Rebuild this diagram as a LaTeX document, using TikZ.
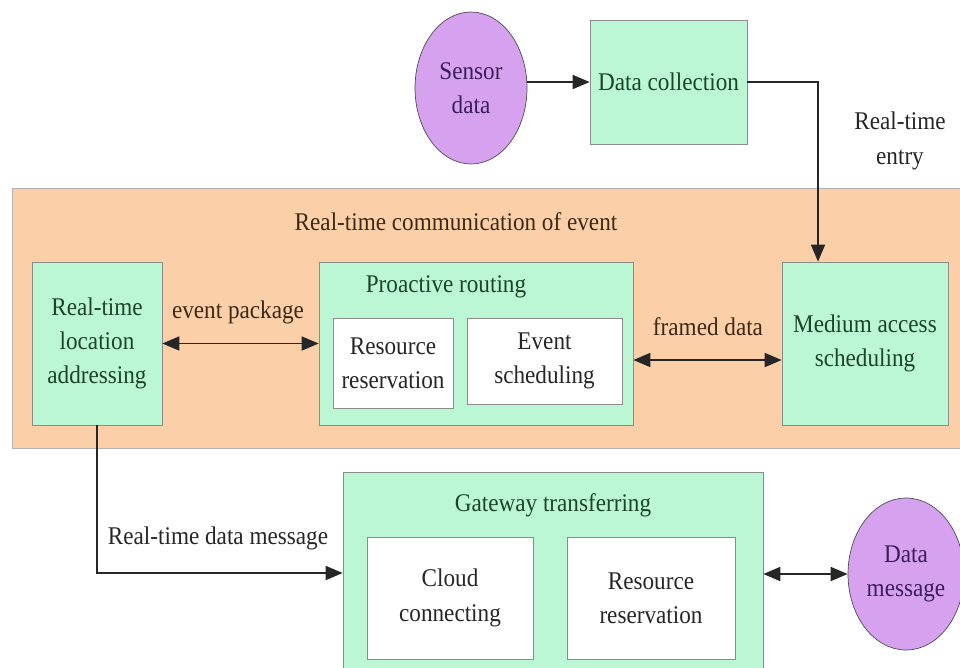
\documentclass[tikz,border=0pt]{standalone}
\usepackage{fontspec}
\setmainfont{Liberation Serif}[FakeStretch=0.91]
\usetikzlibrary{arrows.meta,shapes.geometric}
\definecolor{boxgreen}{RGB}{188,247,213}
\definecolor{bandorange}{RGB}{251,208,168}
\definecolor{ovalpurple}{RGB}{214,162,240}
\definecolor{greentext}{RGB}{28,68,40}
\definecolor{browntext}{RGB}{62,40,22}
\definecolor{purpletext}{RGB}{58,30,88}
\begin{document}
\begin{tikzpicture}[x=0.02cm,y=-0.02cm,
        font=\fontsize{14.5}{19.5}\selectfont,
        >={Triangle[length=3.4mm,width=2.8mm]},
        box/.style={draw=black!45,fill=boxgreen,text=greentext,align=center,
            inner sep=0pt},
        inbox/.style={draw=black!45,fill=white,text=black!85,align=center,
            inner sep=0pt},
        oval/.style={ellipse,draw=black!70,fill=ovalpurple,text=purpletext,
            align=center,inner sep=0pt},
        lbl/.style={text=browntext,align=center},
        link/.style={line width=1pt,black!85}]
\useasboundingbox (0,0) rectangle (960,667);

\node[oval,minimum width=2.24cm,minimum height=3.04cm] (sensor) at (471,88) {Sensor\\data};
\node[box,minimum width=3.14cm,minimum height=2.48cm] (collect) at (668.5,82) {Data collection};

\draw[draw=black!30,fill=bandorange] (12,188) rectangle (975,448);
\node[lbl] (bandtitle) at (456,222) {Real-time communication of event};

\node[box,minimum width=2.6cm,minimum height=3.26cm] (addr) at (97,343.5) {Real-time\\location\\addressing};
\node[box,minimum width=6.28cm,minimum height=3.26cm] (proact) at (476,343.5) {};
\node[text=greentext] (proacttitle) at (446,287) {Proactive routing};
\node[inbox,minimum width=2.4cm,minimum height=1.8cm] (resv) at (393,363) {Resource\\reservation};
\node[inbox,minimum width=3.1cm,minimum height=1.72cm] (evsched) at (544.5,361) {Event\\scheduling};
\node[box,minimum width=3.32cm,minimum height=3.26cm] (mac) at (865,343.5) {Medium access\\scheduling};

\node[box,minimum width=8.4cm,minimum height=4.36cm] (gate) at (553,581) {};
\node[text=greentext] (gatetitle) at (553,505) {Gateway transferring};
\node[inbox,minimum width=3.32cm,minimum height=2.44cm] (cloud) at (450,598) {Cloud\\connecting};
\node[inbox,minimum width=3.36cm,minimum height=2.44cm] (resvg) at (651,598) {Resource\\reservation};
\node[oval,minimum width=2.32cm,minimum height=3.04cm] (datamsg) at (906,574) {Data\\message};

\draw[->,link] (sensor.east |- collect.west) -- (collect.west);
\draw[->,link] (collect.east) -| ([xshift=-0.94cm]mac.north);
\node[text=black!85,align=center] (entrylbl) at (900,141) {Real-time\\entry};

\draw[<->,link] (addr.east) -- (proact.west);
\node[lbl] (pkglbl) at (238,312) {event package};
\draw[<->,link] ([yshift=-0.33cm]proact.east) -- ([yshift=-0.33cm]mac.west);
\node[lbl] (framedlbl) at (708,327) {framed data};

\draw[->,link] (addr.south) |- ([yshift=0.16cm]gate.west);
\node[text=black!85] (msglbl) at (218,538) {Real-time data message};
\draw[<->,link] (gate.east |- datamsg.west) -- (datamsg.west);

\end{tikzpicture}
\end{document}
